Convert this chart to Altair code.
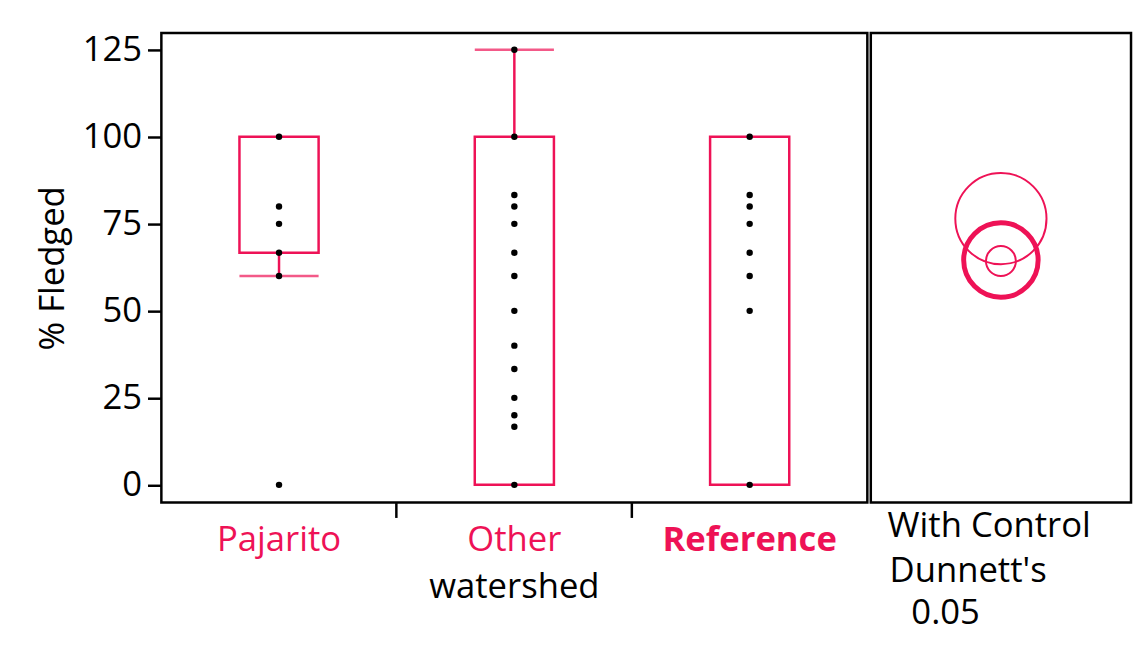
import altair as alt
import pandas as pd

# ---------------- data ----------------
groups = ["Pajarito", "Other watershed", "Reference"]

pajarito_pts = [100, 80, 75, 66.7, 60, 0]
other_pts = [125, 100, 83.3, 80, 75, 66.7, 60, 50, 40, 33.3, 25, 20, 16.7, 0]
reference_pts = [100, 83.3, 80, 75, 66.7, 60, 50, 0]

box_q1 = [66.7, 0, 0]
box_q3 = [100, 100, 100]
whisker_lo = [60, 0, 0]
whisker_hi = [100, 125, 100]

circle_groups = ["Pajarito", "Other watershed", "Reference"]
circle_center = [76.5, 64.3, 64.6]
circle_radius = [13.1, 4.3, 10.7]
circle_stroke = [2.0, 2.0, 5.0]

y_ticks = [0, 25, 50, 75, 100, 125]
y_domain = [-5.1, 129.8]

right_lines = ["With Control", "Dunnett's", "0.05"]

# ---------------- style ----------------
RED = "#EE1256"
FONT = "Open Sans"
FS = 35
W_MAIN = 713.5
W_RIGHT = 263
H = 474.5
ppu = H / (y_domain[1] - y_domain[0])

pts = pd.DataFrame(
    [{"group": "Pajarito", "v": v} for v in pajarito_pts]
    + [{"group": "Other watershed", "v": v} for v in other_pts]
    + [{"group": "Reference", "v": v} for v in reference_pts]
)
box = pd.DataFrame({"group": groups, "q1": box_q1, "q3": box_q3,
                    "lo": whisker_lo, "hi": whisker_hi})
caps = pd.DataFrame(
    [{"group": g, "cap": lo} for g, lo, q1 in zip(groups, whisker_lo, box_q1) if lo < q1]
    + [{"group": g, "cap": hi} for g, hi, q3 in zip(groups, whisker_hi, box_q3) if hi > q3]
)
circ = pd.DataFrame({"group": circle_groups, "center": circle_center,
                     "r": circle_radius, "sw": circle_stroke})
circ["size_px"] = (2 * circ["r"] * ppu) ** 2

yscale = alt.Scale(domain=y_domain, nice=False, zero=False)
xenc = alt.X("group:N", sort=groups,
             scale=alt.Scale(paddingInner=0, paddingOuter=0),
             axis=alt.Axis(title=None, labels=False, domain=False,
                           values=["Other watershed", "Reference"], bandPosition=0,
                           tickSize=15, tickWidth=2.5, tickColor="black"))
yenc_main = alt.Y("q1:Q", scale=yscale,
                  axis=alt.Axis(title="% Fledged", values=y_ticks, grid=False, domain=False,
                                tickSize=14, tickWidth=2.5, tickColor="black",
                                labelFontSize=FS, labelFont=FONT, labelColor="black",
                                labelPadding=6,
                                titleFontSize=FS, titleFont=FONT, titleFontWeight="normal",
                                titleColor="black", titlePadding=12))

boxes = alt.Chart(box).mark_bar(size=80, fill="transparent", stroke=RED, strokeWidth=2.5).encode(
    x=xenc, y=yenc_main, y2="q3:Q")
rule_lo = alt.Chart(box).mark_rule(color=RED, strokeWidth=2.5).encode(
    x=xenc, y=alt.Y("lo:Q", scale=yscale), y2="q1:Q")
rule_hi = alt.Chart(box).mark_rule(color=RED, strokeWidth=2.5).encode(
    x=xenc, y=alt.Y("q3:Q", scale=yscale), y2="hi:Q")
cap_marks = alt.Chart(caps).mark_tick(size=80, thickness=2.5, color=RED).encode(
    x=xenc, y=alt.Y("cap:Q", scale=yscale))
dots = alt.Chart(pts).mark_circle(size=42, color="black", opacity=1).encode(
    x=xenc, y=alt.Y("v:Q", scale=yscale))

lab1 = pd.DataFrame({"group": ["Pajarito", "Other watershed"], "t": ["Pajarito", "Other"]})
lab2 = pd.DataFrame({"group": ["Reference"], "t": ["Reference"]})
lab3 = pd.DataFrame({"group": ["Other watershed"], "t": ["watershed"]})
txt1 = alt.Chart(lab1).mark_text(font=FONT, fontSize=FS, color=RED, baseline="middle").encode(
    x=xenc, y=alt.value(H + 38), text="t:N")
txt2 = alt.Chart(lab2).mark_text(font=FONT, fontSize=FS, color=RED, fontWeight="bold",
                                 baseline="middle").encode(
    x=xenc, y=alt.value(H + 38), text="t:N")
txt3 = alt.Chart(lab3).mark_text(font=FONT, fontSize=FS, color="black", baseline="middle").encode(
    x=xenc, y=alt.value(H + 85), text="t:N")

main = alt.layer(boxes, rule_lo, rule_hi, cap_marks, dots, txt1, txt2, txt3).properties(
    width=W_MAIN, height=H)

circles = alt.Chart(circ).mark_point(shape="circle", filled=False, color=RED, opacity=1).encode(
    y=alt.Y("center:Q", scale=yscale, axis=None),
    size=alt.Size("size_px:Q", scale=None, legend=None),
    strokeWidth=alt.StrokeWidth("sw:Q", scale=None, legend=None))

rtxt = [
    alt.Chart(pd.DataFrame({"t": [right_lines[0]]})).mark_text(
        font=FONT, fontSize=FS, color="black", align="left", baseline="middle").encode(
        x=alt.value(17), y=alt.value(H + 24), text="t:N"),
    alt.Chart(pd.DataFrame({"t": [right_lines[1]]})).mark_text(
        font=FONT, fontSize=FS, color="black", align="left", baseline="middle").encode(
        x=alt.value(19), y=alt.value(H + 69), text="t:N"),
    alt.Chart(pd.DataFrame({"t": [right_lines[2]]})).mark_text(
        font=FONT, fontSize=FS, color="black", align="left", baseline="middle").encode(
        x=alt.value(41), y=alt.value(H + 112), text="t:N"),
]
right = alt.layer(circles, *rtxt).properties(width=W_RIGHT, height=H)

chart = alt.hconcat(main, right, spacing=0).properties(
    padding={"left": 26, "top": 20, "right": 0, "bottom": 5},
    background="white",
).configure_view(stroke="black", strokeWidth=2.5).configure_concat(spacing=0)

chart.save("out.html", embed_options={"renderer": "svg", "actions": False})
